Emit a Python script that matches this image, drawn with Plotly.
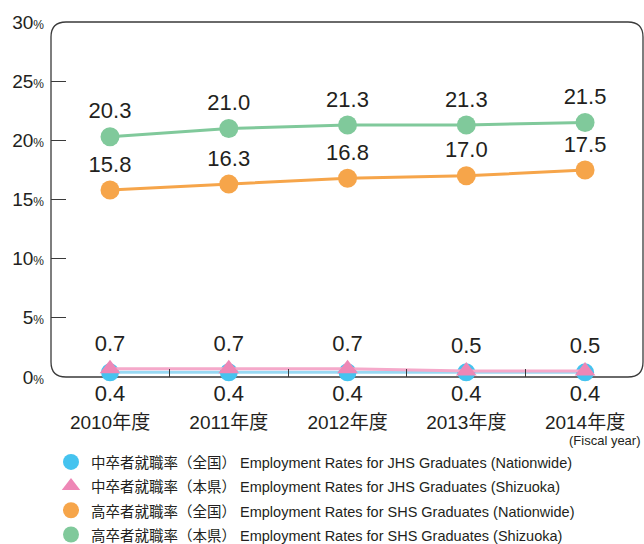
import plotly.graph_objects as go

years = ["2010年度", "2011年度", "2012年度", "2013年度", "2014年度"]
jhs_nation = [0.4, 0.4, 0.4, 0.4, 0.4]
jhs_shizuoka = [0.7, 0.7, 0.7, 0.5, 0.5]
shs_nation = [15.8, 16.3, 16.8, 17.0, 17.5]
shs_shizuoka = [20.3, 21.0, 21.3, 21.3, 21.5]
names = [
    "中卒者就職率（全国） Employment Rates for JHS Graduates (Nationwide)",
    "中卒者就職率（本県） Employment Rates for JHS Graduates (Shizuoka)",
    "高卒者就職率（全国） Employment Rates for SHS Graduates (Nationwide)",
    "高卒者就職率（本県） Employment Rates for SHS Graduates (Shizuoka)",
]
y_ticks = [0, 5, 10, 15, 20, 25, 30]

xs = list(range(len(years)))
TXT = "#231f20"
FONT = "Liberation Sans, Arial, Noto Sans CJK JP"

series = [
    (jhs_nation, "#45c3ef", "#98d9f3", "circle", 18, "bottom center"),
    (jhs_shizuoka, "#ee87b6", "#f5a9ca", "triangle-up", 18, "top center"),
    (shs_nation, "#f6a54a", "#f6a54a", "circle", 19, "top center"),
    (shs_shizuoka, "#80c99b", "#80c99b", "circle", 19, "top center"),
]

fig = go.Figure()
for vals, mc, lc, sym, sz, tp in series:
    fig.add_trace(go.Scatter(
        x=xs, y=vals, mode="lines+markers+text",
        line=dict(color=lc, width=3),
        marker=dict(color=mc, symbol=sym, size=sz),
        text=[f"{v:.1f}" for v in vals], textposition=tp,
        textfont=dict(size=22, color=TXT, family=FONT),
        showlegend=False, cliponaxis=False, hoverinfo="skip",
    ))
for (vals, mc, lc, sym, sz, tp), nm in zip(series, names):
    fig.add_trace(go.Scatter(
        x=[None], y=[None], mode="markers",
        name=f"<span style='font-size:14.5px'>{nm}</span>",
        marker=dict(color=mc, symbol=sym, size=16),
    ))

rx, ry = 15 / 592, 15 / 355
path = (f"M {rx},0 L {1-rx},0 Q 1,0 1,{ry} L 1,{1-ry} Q 1,1 {1-rx},1 "
        f"L {rx},1 Q 0,1 0,{1-ry} L 0,{ry} Q 0,0 {rx},0 Z")
fig.add_shape(type="path", path=path, xref="paper", yref="paper",
              line=dict(color="#3a3a3a", width=1.3), layer="below")

fig.add_annotation(text="(Fiscal year)", xref="paper", yref="paper",
                   x=1.0, y=-0.179, xanchor="right", yanchor="middle",
                   showarrow=False, font=dict(size=13, color=TXT, family=FONT))

fig.update_layout(
    width=644, height=544,
    margin=dict(l=51, r=1, t=22, b=167, autoexpand=False),
    paper_bgcolor="white", plot_bgcolor="white",
    xaxis=dict(range=[-0.497, 4.488], tickvals=xs, ticktext=years,
               showgrid=False, zeroline=False, showline=False, ticks="",
               automargin=False, tickangle=0,
               ticklabelstandoff=32,
               tickfont=dict(size=19, color=TXT, family=FONT),
               minor=dict(tickvals=[0.5, 1.5, 2.5, 3.5], ticks="inside",
                          ticklen=8, tickcolor="#3a3a3a", tickwidth=1.2)),
    yaxis=dict(range=[0, 30], tickvals=y_ticks,
               ticktext=[f"{v}<span style='font-size:12px'>%</span>" for v in y_ticks],
               showgrid=False, zeroline=False, showline=False, ticks="",
               automargin=False,
               ticklabelstandoff=6,
               tickfont=dict(size=19, color=TXT, family=FONT),
               minor=dict(tickvals=[5, 10, 15, 20, 25], ticks="inside",
                          ticklen=15, tickcolor="#3a3a3a", tickwidth=1.2)),
    legend=dict(x=0.0, y=-0.191, xanchor="left", yanchor="top",
                font=dict(size=16.3, color=TXT, family=FONT),
                itemwidth=30, tracegroupgap=0, bgcolor="rgba(0,0,0,0)"),
)
fig.write_html("out.html", post_script="document.body.style.margin='0';",
               config={"displayModeBar": False})
